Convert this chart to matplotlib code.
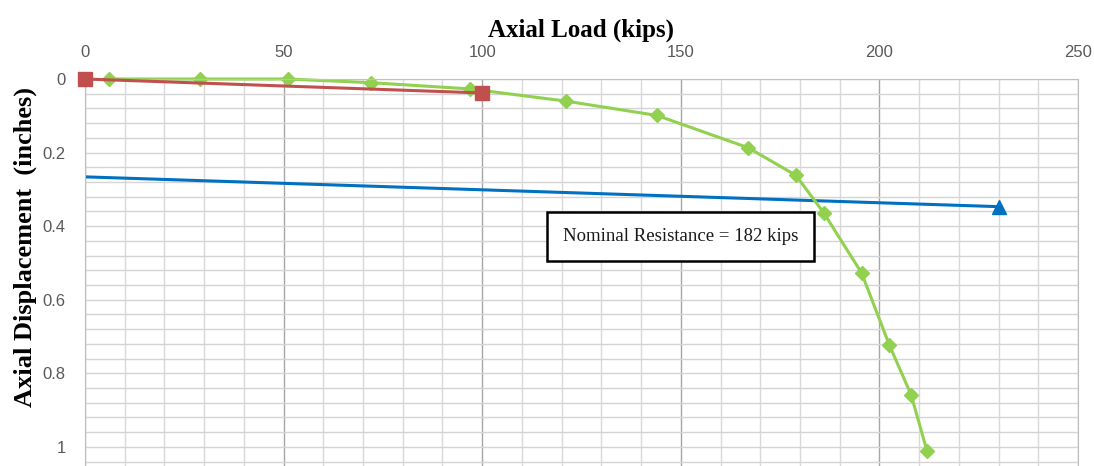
import matplotlib.pyplot as plt
from matplotlib.ticker import MultipleLocator

# Load test data: axial load (kips) vs. axial displacement (inches)
test_load = [6, 29, 51, 72, 97, 121, 144, 167, 179, 186, 195.5, 202.5, 208, 212]
test_disp = [0, 0, 0, 0.01, 0.027, 0.06, 0.099, 0.187, 0.262, 0.364, 0.527, 0.723, 0.859, 1.012]

# Elastic line of the pile
elastic_load = [0, 100]
elastic_disp = [0, 0.038]

# Failure criterion line
criterion_load = [0, 230]
criterion_disp = [0.266, 0.347]

nominal_text = "Nominal Resistance = 182 kips"

fig = plt.figure(figsize=(10.94, 4.66), dpi=100)
ax = fig.add_axes([85 / 1094, 0.0, (1078 - 85) / 1094, 1 - 79 / 466])

# grid
ax.xaxis.set_major_locator(MultipleLocator(50))
ax.xaxis.set_minor_locator(MultipleLocator(10))
ax.yaxis.set_major_locator(MultipleLocator(0.2))
ax.yaxis.set_minor_locator(MultipleLocator(0.04))
ax.grid(which='major', axis='x', color='#a6a6a6', lw=1.0)
ax.grid(which='minor', axis='x', color='#d9d9d9', lw=1.0)
ax.grid(which='both', axis='y', color='#d4d4d4', lw=1.0)
ax.set_axisbelow(True)

# curves
ax.plot(criterion_load, criterion_disp, color='#0070c0', lw=2.2)
ax.plot(criterion_load[-1:], criterion_disp[-1:], '^', color='#0070c0', ms=9.5, clip_on=False)
ax.plot(test_load, test_disp, color='#92d050', lw=2.2, marker='D', ms=7.5,
        mfc='#92d050', mec='#92d050', clip_on=False)
ax.plot(elastic_load, elastic_disp, color='#c0504d', lw=2.2, marker='s', ms=10,
        mfc='#c0504d', mec='#c0504d', clip_on=False, zorder=5)

ax.set_xlim(0, 250)
ax.set_ylim(1.052, 0)

ax.xaxis.tick_top()
ax.tick_params(axis='both', which='both', length=0, labelsize=12, labelcolor='#595959')
ax.tick_params(axis='x', pad=14)
ax.tick_params(axis='y', pad=14)
ax.set_yticks([0, 0.2, 0.4, 0.6, 0.8, 1.0])
ax.set_yticklabels(['0', '0.2', '0.4', '0.6', '0.8', '1'])
for lbl in ax.get_xticklabels() + ax.get_yticklabels():
    lbl.set_fontfamily('Liberation Sans')

for side in ['left', 'top', 'right']:
    ax.spines[side].set_color('#bfbfbf')
ax.spines['bottom'].set_visible(False)

ax.set_xlabel('Axial Load (kips)', fontfamily='Liberation Serif', fontweight='bold',
              fontsize=18, labelpad=6)
ax.xaxis.set_label_position('top')
ax.set_ylabel('Axial Displacement  (inches)', fontfamily='Liberation Serif',
              fontweight='bold', fontsize=19)
ax.yaxis.set_label_coords(-0.048, 0.567)

ax.text(150, 0.427, nominal_text, ha='center', va='center', fontsize=13.5,
        fontfamily='Liberation Serif', color='#1a1a1a', zorder=6,
        bbox=dict(boxstyle='square,pad=0.85', fc='white', ec='black', lw=1.8))

fig.savefig('out.png', dpi=100)
